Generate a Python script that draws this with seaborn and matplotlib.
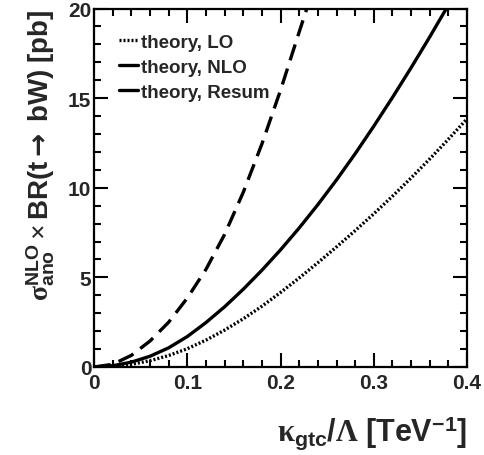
import matplotlib
matplotlib.use("Agg")
import matplotlib.pyplot as plt
from matplotlib.lines import Line2D
from matplotlib.ticker import MultipleLocator, FixedLocator, FixedFormatter
import seaborn as sns

# Cross section x branching ratio versus anomalous coupling kappa_gtc / Lambda
kappa_lo = [0.0, 0.02, 0.04, 0.06, 0.08, 0.10, 0.12, 0.14, 0.16, 0.18, 0.20,
            0.22, 0.24, 0.26, 0.28, 0.30, 0.32, 0.34, 0.36, 0.38, 0.40]
sigma_lo = [0.0, 0.03, 0.15, 0.35, 0.64, 1.02, 1.50, 2.06, 2.69, 3.39, 4.16,
            4.97, 5.82, 6.70, 7.61, 8.55, 9.53, 10.55, 11.61, 12.71, 13.85]

kappa_nlo = [0.0, 0.02, 0.04, 0.06, 0.08, 0.10, 0.12, 0.14, 0.16, 0.18, 0.20,
             0.22, 0.24, 0.26, 0.28, 0.30, 0.32, 0.34, 0.36, 0.38]
sigma_nlo = [0.0, 0.07, 0.27, 0.60, 1.07, 1.70, 2.48, 3.36, 4.34, 5.40, 6.54,
             7.76, 9.06, 10.44, 11.90, 13.44, 15.04, 16.70, 18.42, 20.20]

kappa_resum = [0.0, 0.02, 0.04, 0.06, 0.08, 0.10, 0.12, 0.14, 0.16, 0.18,
               0.20, 0.22, 0.23]
sigma_resum = [0.0, 0.15, 0.65, 1.45, 2.50, 3.85, 5.45, 7.40, 9.75, 12.45,
               15.45, 18.70, 20.30]

series_labels = ["theory, LO", "theory, NLO", "theory, Resum"]
x_ticks = [0.0, 0.1, 0.2, 0.3, 0.4]
x_tick_labels = ["0", "0.1", "0.2", "0.3", "0.4"]
y_ticks = [0, 5, 10, 15, 20]
y_tick_labels = ["0", "5", "10", "15", "20"]

sns.set_style("ticks")
plt.rcParams["font.family"] = ["Liberation Sans", "DejaVu Sans"]
plt.rcParams["font.weight"] = "bold"
plt.rcParams["mathtext.fontset"] = "custom"
plt.rcParams["mathtext.rm"] = "Liberation Serif"
plt.rcParams["mathtext.it"] = "Liberation Serif:italic"
plt.rcParams["mathtext.bf"] = "Liberation Sans:bold"
plt.rcParams["mathtext.sf"] = "DejaVu Sans"

fig = plt.figure(figsize=(4.85, 4.56), dpi=100)
ax = fig.add_axes([0.194, 0.193, 0.769, 0.786])

lo_style = (0, (0.6, 0.6))
resum_style = (0, (5.0, 2.6))

sns.lineplot(x=kappa_lo, y=sigma_lo, ax=ax, color="black", lw=2.4,
             linestyle=lo_style, sort=False)
sns.lineplot(x=kappa_nlo, y=sigma_nlo, ax=ax, color="black", lw=2.4,
             linestyle="-", sort=False)
sns.lineplot(x=kappa_resum, y=sigma_resum, ax=ax, color="black", lw=2.4,
             linestyle=resum_style, sort=False)

ax.set_xlim(0, 0.4)
ax.set_ylim(0, 20)

ax.xaxis.set_major_locator(FixedLocator(x_ticks))
ax.xaxis.set_major_formatter(FixedFormatter(x_tick_labels))
ax.yaxis.set_major_locator(FixedLocator(y_ticks))
ax.yaxis.set_major_formatter(FixedFormatter(y_tick_labels))
ax.xaxis.set_minor_locator(MultipleLocator(0.02))
ax.yaxis.set_minor_locator(MultipleLocator(1))

ax.tick_params(which="both", direction="in", top=True, right=True,
               color="black", width=1.5)
ax.tick_params(which="major", length=10, labelsize=15, pad=4)
ax.tick_params(which="minor", length=5)
ax.tick_params(axis="y", which="major", pad=2)
for lab in ax.get_xticklabels() + ax.get_yticklabels():
    lab.set_fontweight("bold")

for sp in ax.spines.values():
    sp.set_linewidth(1.6)
    sp.set_color("black")
    sp.set_visible(True)

ax.set_xlabel(r"$\mathrm{\kappa}_{\mathbf{gtc}}\mathbf{/}\mathrm{\Lambda}\ "
              r"\mathbf{[TeV}^{\mathbf{-1}}\mathbf{]}$",
              fontsize=22, loc="right", labelpad=16)
ax.set_ylabel(r"$\mathrm{\sigma}^{\mathbf{NLO}}_{\mathbf{ano}}\times"
              r"\mathbf{BR(t}\mathsf{\rightarrow}\mathbf{\ bW)\ [pb]}$",
              fontsize=20, loc="top", labelpad=8)

handles = [
    Line2D([], [], color="black", lw=2.4, linestyle=lo_style),
    Line2D([], [], color="black", lw=2.4, linestyle="-"),
    Line2D([], [], color="black", lw=2.4, linestyle="-"),
]
ax.legend(handles, series_labels, loc="upper left",
          bbox_to_anchor=(0.066, 0.93), frameon=False,
          prop={"weight": "bold", "size": 13.5}, handlelength=1.05,
          handletextpad=0.15, labelspacing=0.42, borderpad=0,
          borderaxespad=0)

fig.savefig("out.png", dpi=100, facecolor="white")
